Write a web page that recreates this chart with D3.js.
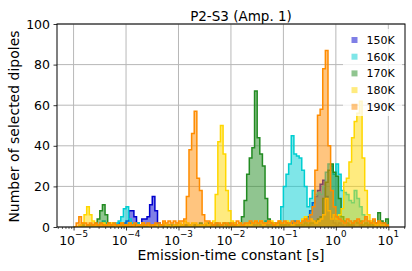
<!DOCTYPE html>
<html>
<head>
<meta charset="utf-8">
<script src="https://cdn.jsdelivr.net/npm/d3@7"></script>
<style>
  body { margin: 0; background: #fff; }
  svg { display: block; font-family: "DejaVu Sans", sans-serif; }
</style>
</head>
<body>
<div id="chart"></div>
<script>
// histogram bins: 0.05 decade wide, from 1e-5 s up to 1e1 s
var binStart = -5;
var binStep = 0.05;
var binCount = 120;

var temps = ["150K", "160K", "170K", "180K", "190K"];
var colors = ["#0000cd", "#00ced1", "#228b22", "#ffd700", "#ff8c00"];

// counts of selected dipoles per bin
var counts150 = [
  0,0,0,0,0,0,0,0,1,0,
  0,1,0,1,0,1,1,2,1,2,
  3,8,8,5,2,1,4,4,5,11,
  15,8,2,1,1,0,1,0,0,1,
  0,0,1,0,0,0,1,0,0,0,
  1,0,0,0,1,0,0,0,0,1,
  0,0,0,0,1,0,0,0,1,0,
  0,1,0,1,1,2,1,0,1,1,
  1,2,1,2,3,1,2,3,3,5,
  8,12,15,18,21,23,15,8,4,2,
  1,2,1,0,1,0,1,0,0,1,
  0,0,1,0,0,0,0,0,0,0
];
var counts160 = [
  0,0,0,1,0,1,0,0,1,1,
  2,3,2,1,1,2,2,3,5,9,
  10,4,2,1,2,1,1,0,1,0,
  1,0,1,0,0,1,0,0,1,0,
  0,1,0,0,1,0,0,1,0,0,
  1,0,0,1,0,0,1,0,0,1,
  0,1,0,0,1,1,0,2,1,1,
  2,1,1,3,2,1,2,1,2,10,
  20,26,31,45,36,35,34,28,20,10,
  14,18,16,17,16,20,27,31,30,26,
  31,26,18,17,16,13,12,18,14,10,
  6,4,2,1,3,1,2,1,0,1
];
var counts170 = [
  0,0,0,1,0,1,1,1,2,4,
  8,11,6,2,1,1,0,1,1,0,
  1,0,1,1,0,1,1,0,1,0,
  1,1,0,1,0,0,1,1,0,1,
  0,1,0,1,1,0,1,0,2,1,
  1,2,1,1,2,1,1,2,1,2,
  1,2,1,2,5,13,26,34,39,67,
  44,36,30,14,4,2,2,1,2,1,
  1,2,1,1,2,1,2,1,2,1,
  2,2,3,4,5,14,22,28,31,27,
  25,14,5,3,2,1,2,3,2,3,
  1,2,1,2,1,2,7,3,2,4
];
var counts180 = [
  0,0,1,2,6,10,6,3,1,1,
  1,2,1,1,2,1,0,1,2,1,
  1,2,1,0,1,1,2,1,1,0,
  1,1,0,1,2,1,1,0,1,1,
  2,1,3,2,1,2,2,1,1,1,
  2,1,2,3,16,42,50,36,18,8,
  3,2,1,2,1,1,2,1,2,3,
  2,3,1,2,2,3,2,1,3,2,
  2,3,2,1,2,3,2,4,5,3,
  4,3,2,3,4,6,14,8,4,6,
  4,6,9,22,24,32,44,52,56,62,
  34,18,6,3,2,1,2,1,1,0
];
var counts190 = [
  0,2,5,2,2,1,2,1,2,1,
  2,1,1,2,1,2,1,1,2,1,
  1,2,1,2,1,1,2,1,2,1,
  1,2,2,1,3,2,3,2,3,2,
  3,3,4,15,38,46,57,24,18,6,
  3,3,2,1,2,2,1,2,2,1,
  2,1,3,2,1,2,2,3,2,3,
  2,3,2,2,3,2,1,2,3,2,
  3,2,2,3,2,3,2,3,4,3,
  6,10,28,55,58,78,87,40,18,10,
  5,4,3,2,4,3,2,3,4,2,
  3,5,3,2,4,2,3,2,2,1
];
var allCounts = [counts150, counts160, counts170, counts180, counts190];

// axis ticks
var xTickExps = [-5, -4, -3, -2, -1, 0, 1];
var yTicks = [0, 20, 40, 60, 80, 100];

var svgWidth = 412;
var svgHeight = 271;

var margin = { top: 24, right: 7, bottom: 44, left: 57 };
var width = svgWidth - margin.left - margin.right;
var height = svgHeight - margin.top - margin.bottom;

var svg = d3.select("#chart")
  .append("svg")
  .attr("width", svgWidth)
  .attr("height", svgHeight);

var chartGroup = svg.append("g")
  .attr("transform", `translate(${margin.left}, ${margin.top})`);

// scales
var xScale = d3.scaleLog()
  .domain([Math.pow(10, -5.316), Math.pow(10, 1.318)])
  .range([0, width]);

var yScale = d3.scaleLinear()
  .domain([0, 100])
  .range([height, 0]);

var binEdges = d3.range(binCount + 1).map(i => Math.pow(10, binStart + i * binStep));

// grid
var xMajor = xTickExps.map(e => Math.pow(10, e));

chartGroup.append("g")
  .selectAll("line.vgrid")
  .data(xMajor)
  .enter()
  .append("line")
  .attr("x1", d => xScale(d))
  .attr("x2", d => xScale(d))
  .attr("y1", 0)
  .attr("y2", height)
  .attr("stroke", "#b8b8b8")
  .attr("stroke-width", 1);

chartGroup.append("g")
  .selectAll("line.hgrid")
  .data(yTicks)
  .enter()
  .append("line")
  .attr("x1", 0)
  .attr("x2", width)
  .attr("y1", d => yScale(d))
  .attr("y2", d => yScale(d))
  .attr("stroke", "#b8b8b8")
  .attr("stroke-width", 1);

// clip for the histograms
svg.append("defs").append("clipPath")
  .attr("id", "plotClip")
  .append("rect")
  .attr("width", width)
  .attr("height", height);

var histGroup = chartGroup.append("g").attr("clip-path", "url(#plotClip)");

function stepPoints(counts) {
  var pts = [[binEdges[0], 0]];
  counts.forEach(function (c, i) {
    pts.push([binEdges[i], c]);
    pts.push([binEdges[i + 1], c]);
  });
  pts.push([binEdges[counts.length], 0]);
  return pts;
}

var stepLine = d3.line()
  .x(d => xScale(d[0]))
  .y(d => yScale(d[1]));

var stepArea = d3.area()
  .x(d => xScale(d[0]))
  .y0(yScale(0))
  .y1(d => yScale(d[1]));

allCounts.forEach(function (counts, k) {
  var pts = stepPoints(counts);
  histGroup.append("path")
    .attr("d", stepArea(pts))
    .attr("fill", colors[k])
    .attr("fill-opacity", 0.5);
  histGroup.append("path")
    .attr("d", stepLine(pts))
    .attr("fill", "none")
    .attr("stroke", colors[k])
    .attr("stroke-width", 1.5)
    .attr("stroke-linejoin", "miter");
});

// axes
var xMinor = [];
d3.range(-6, 2).forEach(function (e) {
  d3.range(2, 10).forEach(function (m) {
    var v = m * Math.pow(10, e);
    if (v >= xScale.domain()[0] && v <= xScale.domain()[1]) xMinor.push(v);
  });
});

chartGroup.append("g")
  .attr("transform", `translate(0, ${height})`)
  .call(d3.axisBottom(xScale).tickValues(xMinor).tickSize(2).tickFormat(""))
  .call(g => g.select(".domain").remove())
  .selectAll("line").attr("stroke-width", 0.6);

var xAxis = chartGroup.append("g")
  .attr("transform", `translate(0, ${height})`)
  .call(d3.axisBottom(xScale).tickValues(xMajor).tickSize(3.5).tickFormat(""));
xAxis.select(".domain").remove();
xAxis.selectAll("line").attr("stroke-width", 0.8);

var yAxis = chartGroup.append("g")
  .call(d3.axisLeft(yScale).tickValues(yTicks).tickSize(3.5).tickFormat(""));
yAxis.select(".domain").remove();
yAxis.selectAll("line").attr("stroke-width", 0.8);

// x tick labels as 10^n
var xLabels = chartGroup.append("g")
  .selectAll("text")
  .data(xTickExps)
  .enter()
  .append("text")
  .attr("x", d => xScale(Math.pow(10, d)))
  .attr("y", height + 17.5)
  .attr("text-anchor", "middle")
  .attr("fill", "#000")
  .style("font-size", "12.5px");
xLabels.append("tspan").text("10");
xLabels.append("tspan")
  .attr("dy", -7.5)
  .style("font-size", "8.75px")
  .text(d => (d < 0 ? "\u2212" + (-d) : "" + d));

// y tick labels
chartGroup.append("g")
  .selectAll("text")
  .data(yTicks)
  .enter()
  .append("text")
  .attr("x", -7)
  .attr("y", d => yScale(d))
  .attr("dy", "0.36em")
  .attr("text-anchor", "end")
  .style("font-size", "12.5px")
  .text(d => d);

// frame
chartGroup.append("rect")
  .attr("width", width)
  .attr("height", height)
  .attr("fill", "none")
  .attr("stroke", "#000")
  .attr("stroke-width", 1);

// legend
var legend = chartGroup.append("g")
  .attr("transform", `translate(${286}, ${5})`);

legend.append("rect")
  .attr("width", 59)
  .attr("height", 87)
  .attr("fill", "#fff")
  .attr("fill-opacity", 0.8);

temps.forEach(function (t, k) {
  var cy = 11 + k * 16.7;
  legend.append("rect")
    .attr("x", 8.5)
    .attr("y", cy - 3)
    .attr("width", 6)
    .attr("height", 6)
    .attr("fill", colors[k])
    .attr("fill-opacity", 0.5);
  legend.append("text")
    .attr("x", 23.5)
    .attr("y", cy)
    .attr("dy", "0.36em")
    .style("font-size", "11px")
    .text(t);
});

// labels
svg.append("text")
  .attr("x", 241)
  .attr("y", 20.5)
  .attr("text-anchor", "middle")
  .style("font-size", "13.5px")
  .text("P2-S3 (Amp. 1)");

svg.append("text")
  .attr("x", margin.left + width / 2)
  .attr("y", 260)
  .attr("text-anchor", "middle")
  .style("font-size", "14px")
  .text("Emission-time constant [s]");

svg.append("text")
  .attr("transform", `translate(18.5, ${margin.top + height / 2 + 1}) rotate(-90)`)
  .attr("text-anchor", "middle")
  .style("font-size", "14px")
  .text("Number of selected dipoles");
</script>
</body>
</html>
